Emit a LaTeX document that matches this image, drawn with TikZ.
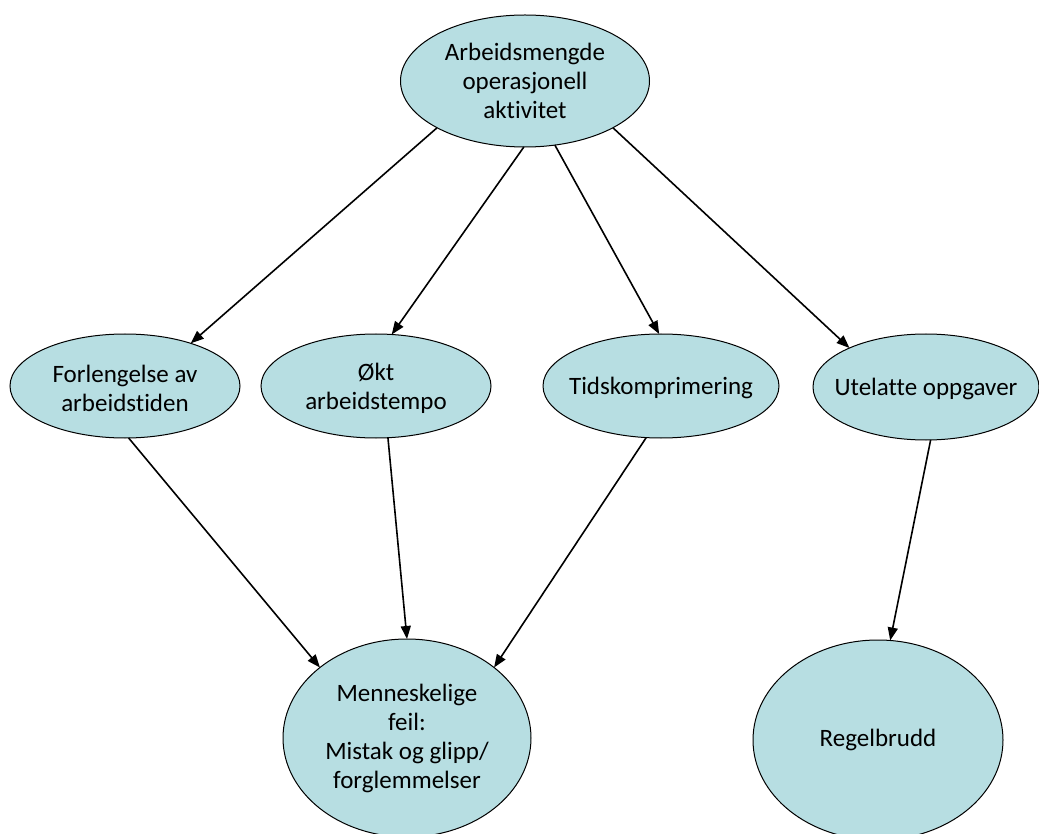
\documentclass[tikz,border=0pt]{standalone}
\usepackage{fontspec}
\setmainfont{Carlito}[RawFeature=-liga]
\usetikzlibrary{arrows.meta,shapes.geometric}
\definecolor{bubblefill}{RGB}{183,222,226}
\tikzset{
  bubble/.style={ellipse, draw=black, line width=1pt, fill=bubblefill,
    inner sep=0pt, outer sep=0pt},
  txt/.style={align=center, inner sep=0pt, font=\fontsize{25}{29}\selectfont},
  link/.style={line width=1.6pt, -{Triangle[length=13pt,width=10pt]}}
}
\begin{document}
\begin{tikzpicture}[x=1pt,y=-1pt]
\useasboundingbox (0,0) rectangle (1039,834);

% ellipses
\node[bubble, minimum width=249pt, minimum height=132pt] (top) at (525,81) {};
\node[bubble, minimum width=230pt, minimum height=104pt] (forl) at (125,386) {};
\node[bubble, minimum width=230pt, minimum height=104pt] (okt) at (376,386) {};
\node[bubble, minimum width=236pt, minimum height=104pt] (tids) at (661,386) {};
\node[bubble, minimum width=226pt, minimum height=106pt] (utel) at (926,387) {};
\node[bubble, minimum width=248pt, minimum height=198pt] (menn) at (407,738) {};
\node[bubble, minimum width=250pt, minimum height=200pt] (regel) at (878,740) {};

% labels
\node[txt] (top-t) at (top) {Arbeidsmengde\\operasjonell\\aktivitet};
\node[txt] (forl-t) at ([yshift=-2pt]forl) {Forlengelse av\\arbeidstiden};
\node[txt] (okt-t) at ([yshift=-2pt]okt) {Økt\\arbeidstempo};
\node[txt] (tids-t) at ([yshift=-2pt]tids) {Tidskomprimering};
\node[txt] (utel-t) at ([yshift=-2pt]utel) {Utelatte oppgaver};
\node[txt] (menn-t) at (menn) {Menneskelige\\feil:\\Mistak og glipp/\\forglemmelser};
\node[txt] (regel-t) at (regel) {Regelbrudd};

% connectors
\draw[link] (top.-152) -- (forl.33);
\draw[link] (top.-91) -- (okt.73);
\draw[link] (top.-65) -- (tids.92);
\draw[link] (top.-28) -- (utel.153);
\draw[link] (forl.-86) -- (menn.141);
\draw[link] (okt.-77) -- (menn.90);
\draw[link] (tids.-106) -- (menn.39);
\draw[link] (utel.-85) -- (regel.83);
\end{tikzpicture}
\end{document}
